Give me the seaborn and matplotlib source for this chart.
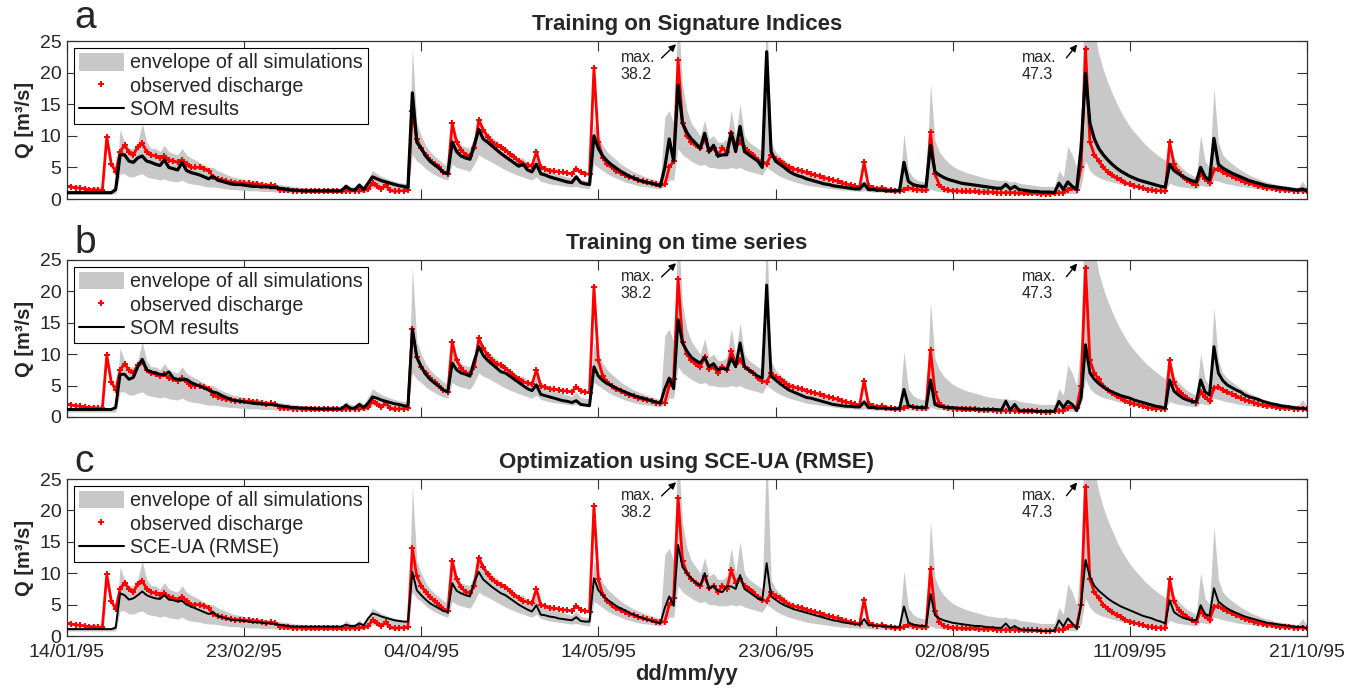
import matplotlib
matplotlib.use("Agg")
import matplotlib.pyplot as plt
import matplotlib.dates as mdates
from matplotlib.lines import Line2D
from matplotlib.patches import Patch
import pandas as pd
import seaborn as sns

# ============================================================
# DATA (daily values, 14/01/95 .. 21/10/95, m3/s)
# ============================================================
START = "1995-01-14"
END = "1995-10-21"

obs = [
    2.0, 1.9, 1.8, 1.7, 1.6, 1.5, 1.5, 1.4, 1.4, 9.8,
    5.6, 4.3, 7.5, 8.5, 7.5, 7.0, 8.3, 8.8, 7.5, 7.0,
    6.8, 6.5, 6.8, 6.2, 6.0, 5.8, 6.2, 5.6, 5.0, 5.0,
    5.0, 4.8, 4.5, 3.5, 3.2, 3.0, 2.8, 2.7, 2.6, 2.6,
    2.5, 2.5, 2.4, 2.4, 2.2, 2.1, 2.2, 2.1, 1.5, 1.4,
    1.4, 1.3, 1.3, 1.3, 1.2, 1.2, 1.2, 1.2, 1.2, 1.2,
    1.2, 1.2, 1.2, 1.3, 1.3, 1.3, 1.3, 1.4, 1.6, 2.5,
    2.0, 1.6, 2.2, 1.4, 1.2, 1.3, 1.3, 1.4, 14.0, 9.5,
    8.0, 7.0, 6.2, 5.5, 5.0, 4.3, 4.0, 12.0, 9.0, 7.8,
    7.0, 6.8, 8.0, 12.5, 11.0, 9.8, 9.0, 8.5, 8.2, 7.8,
    7.2, 6.6, 6.0, 5.6, 5.4, 5.2, 7.5, 5.0, 4.8, 4.5,
    4.4, 4.3, 4.2, 4.1, 4.0, 4.8, 4.2, 4.0, 3.9, 20.7,
    9.0, 6.5, 5.5, 5.0, 4.5, 4.1, 3.8, 3.5, 3.3, 3.0,
    2.8, 2.7, 2.5, 2.3, 2.2, 2.3, 5.0, 6.0, 22.0, 12.0,
    10.0, 9.0, 8.5, 8.0, 9.5, 7.6, 8.0, 7.0, 8.0, 7.5,
    10.5, 8.5, 9.0, 8.0, 7.5, 7.0, 6.2, 5.8, 5.5, 7.0,
    6.3, 6.0, 5.5, 5.0, 4.8, 4.6, 4.4, 4.2, 4.0, 3.8,
    3.6, 3.4, 3.2, 3.0, 2.8, 2.6, 2.4, 2.2, 2.0, 1.9,
    5.8, 2.0, 1.8, 1.6, 1.8, 1.5, 1.4, 1.3, 1.3, 1.5,
    1.8, 1.6, 1.5, 1.4, 1.4, 10.6, 4.0, 2.2, 1.6, 1.4,
    1.3, 1.3, 1.2, 1.2, 1.2, 1.2, 1.1, 1.1, 1.1, 1.1,
    1.0, 1.0, 1.0, 1.0, 1.0, 0.9, 0.9, 0.9, 0.9, 0.9,
    0.8, 0.8, 0.8, 0.9, 1.0, 1.0, 1.5, 1.8, 1.5, 5.0,
    23.8, 9.0, 7.0, 6.0, 5.0, 4.3, 3.8, 3.3, 3.0, 2.6,
    2.3, 2.1, 1.9, 1.7, 1.5, 1.4, 1.3, 1.3, 1.2, 9.0,
    5.5, 4.2, 3.5, 3.0, 2.5, 2.2, 4.0, 3.2, 2.5, 4.6,
    4.8, 4.3, 4.0, 3.6, 3.3, 3.0, 2.7, 2.5, 2.3, 2.1,
    1.9, 1.8, 1.7, 1.6, 1.5, 1.4, 1.4, 1.3, 1.3, 1.3, 1.2,
]

env_lo = [
    0.8, 0.8, 0.8, 0.8, 0.8, 0.8, 0.8, 0.8, 0.8, 0.8,
    0.8, 0.8, 4.0, 4.0, 3.5, 3.5, 3.8, 4.0, 3.5, 3.3,
    3.2, 3.0, 3.2, 2.9, 2.8, 2.7, 3.0, 2.6, 2.4, 2.3,
    2.2, 2.0, 1.9, 1.9, 1.8, 1.7, 1.6, 1.5, 1.5, 1.4,
    1.4, 1.3, 1.3, 1.3, 1.2, 1.2, 1.2, 1.1, 1.1, 1.1,
    1.0, 1.0, 1.0, 1.0, 1.0, 1.0, 1.0, 1.0, 1.0, 1.0,
    1.0, 1.0, 1.0, 1.0, 1.0, 1.0, 1.0, 1.0, 1.2, 1.8,
    1.7, 1.6, 1.5, 1.4, 1.3, 1.3, 1.2, 1.2, 7.0, 6.0,
    5.5, 4.8, 4.3, 3.9, 3.5, 3.2, 3.0, 5.5, 5.0, 4.8,
    4.6, 4.4, 5.5, 7.0, 6.5, 6.2, 5.8, 5.4, 5.0, 4.6,
    4.3, 4.0, 3.7, 3.5, 3.2, 3.0, 3.5, 2.8, 2.6, 2.4,
    2.3, 2.2, 2.1, 2.0, 1.9, 2.0, 1.8, 1.7, 1.6, 5.5,
    5.0, 4.5, 4.0, 3.6, 3.3, 3.0, 2.7, 2.5, 2.3, 2.1,
    2.0, 1.9, 1.8, 1.7, 1.6, 2.0, 3.0, 3.0, 8.0, 7.0,
    6.5, 6.0, 5.6, 5.3, 5.5, 5.0, 5.0, 4.8, 4.8, 4.8,
    5.0, 4.8, 5.0, 4.6, 4.4, 4.2, 4.0, 3.8, 5.0, 4.5,
    4.0, 3.6, 3.3, 3.0, 2.8, 2.6, 2.4, 2.2, 2.1, 2.0,
    1.9, 1.8, 1.7, 1.6, 1.5, 1.4, 1.4, 1.3, 1.3, 1.2,
    1.3, 1.2, 1.1, 1.1, 1.1, 1.0, 1.0, 1.0, 1.0, 1.5,
    1.2, 1.1, 1.1, 1.0, 1.0, 1.6, 1.3, 1.2, 1.1, 1.0,
    1.0, 1.0, 0.9, 0.9, 0.9, 0.9, 0.8, 0.8, 0.8, 0.8,
    0.8, 0.8, 0.8, 0.8, 0.8, 0.7, 0.7, 0.7, 0.7, 0.7,
    0.7, 0.7, 0.7, 0.7, 0.8, 0.8, 0.9, 0.9, 0.8, 2.0,
    6.0, 4.5, 3.8, 3.4, 3.1, 2.9, 2.7, 2.5, 2.3, 2.2,
    2.0, 1.9, 1.8, 1.7, 1.6, 1.5, 1.4, 1.4, 1.3, 2.5,
    2.2, 2.0, 1.9, 1.8, 1.7, 1.6, 2.2, 2.0, 1.9, 3.0,
    2.8, 2.6, 2.4, 2.3, 2.1, 2.0, 1.9, 1.8, 1.7, 1.6,
    1.5, 1.4, 1.4, 1.3, 1.3, 1.2, 1.2, 1.1, 1.1, 1.1, 1.0,
]

env_hi = [
    1.3, 1.3, 1.3, 1.3, 1.3, 1.3, 1.3, 1.3, 1.3, 1.3,
    1.3, 2.0, 11.0, 9.0, 8.0, 8.0, 9.0, 12.0, 9.0, 8.0,
    8.0, 7.5, 8.5, 7.5, 7.2, 7.0, 8.0, 7.0, 6.5, 6.2,
    5.8, 5.4, 5.0, 5.0, 4.5, 4.2, 3.9, 3.6, 3.4, 3.3,
    3.1, 3.0, 2.9, 2.8, 2.7, 2.6, 2.5, 2.4, 2.3, 2.2,
    2.1, 2.0, 1.9, 1.8, 1.8, 1.7, 1.7, 1.7, 1.7, 1.7,
    1.7, 1.7, 1.7, 2.5, 2.0, 1.9, 2.6, 2.0, 3.2, 4.5,
    4.0, 3.6, 3.3, 3.0, 2.8, 2.6, 2.5, 2.4, 23.8, 12.0,
    10.0, 8.5, 7.5, 6.8, 6.2, 5.6, 5.2, 11.5, 9.5, 8.5,
    8.2, 8.0, 10.0, 12.5, 11.0, 10.5, 9.8, 9.2, 8.6, 8.0,
    7.5, 7.0, 6.5, 6.5, 5.8, 5.4, 6.5, 5.0, 4.7, 4.4,
    4.1, 3.9, 3.7, 3.5, 3.3, 4.0, 3.1, 3.0, 2.9, 12.0,
    10.0, 8.5, 7.5, 6.8, 6.2, 5.6, 5.1, 4.7, 4.3, 4.0,
    3.7, 3.4, 3.2, 3.0, 2.8, 13.0, 14.0, 12.0, 30.0, 18.0,
    14.0, 12.0, 11.0, 10.0, 12.5, 9.5, 10.0, 9.0, 9.0, 9.5,
    14.0, 10.0, 15.0, 10.0, 9.0, 8.5, 8.0, 7.5, 30.0, 9.0,
    7.5, 6.8, 6.2, 5.7, 5.2, 4.8, 4.5, 4.2, 3.9, 3.6,
    3.4, 3.2, 3.0, 2.8, 2.6, 2.5, 2.4, 2.3, 2.2, 2.1,
    3.0, 2.0, 2.0, 1.9, 1.9, 1.8, 1.8, 1.8, 1.8, 10.4,
    4.5, 3.5, 3.0, 2.8, 2.7, 18.3, 9.3, 7.5, 6.5, 5.8,
    5.2, 4.8, 4.5, 4.2, 4.0, 3.8, 3.6, 3.4, 3.2, 3.1,
    3.0, 2.9, 3.0, 2.7, 2.8, 2.5, 2.4, 2.3, 2.2, 2.1,
    2.0, 2.0, 2.0, 2.0, 4.5, 3.5, 8.3, 7.0, 5.0, 12.0,
    40.0, 31.0, 26.5, 23.0, 20.5, 18.5, 16.8, 15.2, 13.8, 12.6,
    11.5, 10.6, 9.8, 9.0, 8.3, 7.7, 7.1, 6.6, 6.1, 8.0,
    6.5, 5.5, 4.8, 4.2, 3.8, 3.5, 10.1, 6.0, 5.0, 17.5,
    9.0, 7.0, 6.2, 5.6, 5.1, 4.6, 4.2, 3.8, 3.5, 3.2,
    2.9, 2.7, 2.5, 2.3, 2.2, 2.1, 2.0, 1.9, 1.8, 2.8, 1.7,
]

sim_a = [
    1.0, 1.0, 1.0, 1.0, 1.0, 1.0, 1.0, 1.0, 1.0, 1.0,
    1.0, 1.5, 7.0, 7.0, 6.0, 5.8, 6.5, 6.8, 6.0, 5.8,
    5.5, 5.3, 6.2, 5.0, 4.8, 4.6, 5.8, 4.5, 4.2, 4.0,
    3.8, 3.5, 3.2, 3.6, 3.0, 2.8, 2.6, 2.4, 2.3, 2.3,
    2.2, 2.1, 2.0, 2.0, 1.9, 2.0, 1.8, 1.8, 1.7, 1.6,
    1.5, 1.4, 1.4, 1.3, 1.3, 1.3, 1.3, 1.3, 1.3, 1.3,
    1.3, 1.3, 1.3, 2.0, 1.5, 1.4, 2.2, 1.5, 2.5, 3.5,
    3.2, 2.9, 2.7, 2.5, 2.3, 2.1, 2.0, 1.8, 16.8, 9.0,
    8.0, 6.8, 6.0, 5.4, 4.9, 4.2, 4.0, 9.0, 7.5, 6.8,
    6.5, 6.3, 8.6, 11.0, 9.5, 9.0, 8.4, 7.8, 7.2, 6.7,
    6.2, 5.7, 5.2, 5.5, 4.6, 4.3, 5.5, 4.0, 3.8, 3.5,
    3.3, 3.1, 2.9, 2.7, 2.6, 3.5, 2.6, 2.4, 2.3, 10.0,
    8.0, 6.8, 6.0, 5.4, 4.9, 4.4, 4.0, 3.6, 3.3, 3.0,
    2.8, 2.6, 2.5, 2.3, 2.1, 5.0, 9.5, 6.0, 18.0, 12.0,
    10.5, 9.5, 8.8, 8.0, 10.4, 7.5, 8.5, 6.8, 7.0, 7.0,
    10.5, 7.5, 11.5, 7.5, 7.0, 6.5, 6.0, 5.0, 23.3, 7.5,
    6.0, 5.5, 5.0, 4.4, 4.0, 3.7, 3.5, 3.2, 3.0, 2.8,
    2.6, 2.4, 2.3, 2.1, 2.0, 1.9, 1.8, 1.7, 1.6, 1.6,
    2.4, 1.5, 1.5, 1.4, 1.4, 1.3, 1.3, 1.3, 1.3, 5.8,
    2.8, 2.3, 2.1, 2.0, 2.0, 8.5, 4.3, 3.8, 3.4, 3.1,
    2.9, 2.7, 2.5, 2.4, 2.3, 2.2, 2.1, 2.0, 1.9, 1.8,
    1.7, 1.7, 2.3, 1.6, 2.0, 1.5, 1.4, 1.3, 1.2, 1.2,
    1.1, 1.1, 1.1, 1.0, 2.5, 1.5, 2.7, 2.0, 1.5, 8.0,
    19.9, 12.0, 9.5, 8.0, 7.0, 6.2, 5.5, 4.9, 4.4, 4.0,
    3.6, 3.3, 3.0, 2.8, 2.6, 2.4, 2.2, 2.0, 1.9, 5.5,
    4.5, 4.0, 3.6, 3.2, 2.9, 2.7, 5.0, 3.5, 3.0, 9.6,
    5.5, 4.9, 4.5, 4.1, 3.8, 3.5, 3.2, 2.9, 2.7, 2.5,
    2.3, 2.1, 2.0, 1.9, 1.8, 1.7, 1.6, 1.5, 1.4, 1.6, 1.3,
]

sim_b = [
    1.2, 1.2, 1.2, 1.2, 1.2, 1.2, 1.2, 1.2, 1.2, 1.2,
    1.2, 1.5, 6.8, 6.8, 6.0, 6.3, 8.0, 9.2, 7.5, 7.2,
    7.0, 6.8, 6.7, 7.2, 6.2, 6.0, 5.9, 6.0, 5.5, 5.2,
    4.9, 4.6, 4.3, 4.0, 3.8, 3.4, 3.1, 2.8, 2.6, 2.5,
    2.4, 2.3, 2.2, 2.1, 2.1, 2.0, 2.0, 1.9, 1.8, 1.7,
    1.6, 1.5, 1.5, 1.4, 1.4, 1.4, 1.3, 1.3, 1.3, 1.3,
    1.3, 1.3, 1.3, 1.9, 1.4, 1.4, 2.0, 1.5, 2.2, 3.2,
    3.0, 2.7, 2.5, 2.3, 2.1, 2.0, 1.8, 1.7, 14.0, 9.5,
    8.0, 6.8, 6.0, 5.4, 4.9, 4.3, 4.0, 8.6, 7.5, 7.0,
    6.8, 6.5, 9.0, 11.2, 9.8, 9.0, 8.4, 7.8, 7.2, 7.0,
    6.5, 6.0, 5.5, 5.0, 4.5, 4.2, 5.1, 3.6, 3.4, 3.2,
    3.0, 2.8, 2.6, 2.5, 2.3, 2.6, 2.0, 1.9, 1.8, 8.0,
    6.5, 5.8, 5.3, 5.0, 4.6, 4.3, 4.0, 3.7, 3.4, 3.2,
    3.0, 2.8, 2.6, 2.4, 2.2, 4.5, 6.2, 4.5, 15.5, 11.8,
    10.5, 9.5, 9.0, 8.6, 9.5, 8.0, 8.5, 7.5, 7.8, 7.5,
    9.4, 8.0, 11.8, 8.0, 7.5, 7.0, 6.5, 6.2, 21.0, 6.5,
    5.9, 5.3, 4.8, 4.3, 4.0, 3.7, 3.4, 3.1, 3.0, 2.8,
    2.6, 2.4, 2.2, 2.0, 1.9, 1.8, 1.7, 1.7, 1.6, 1.6,
    2.4, 1.5, 1.5, 1.4, 1.4, 1.4, 1.3, 1.3, 1.3, 4.4,
    1.8, 1.6, 1.5, 1.5, 1.5, 5.9, 2.0, 1.7, 1.6, 1.5,
    1.5, 1.4, 1.4, 1.3, 1.3, 1.3, 1.2, 1.2, 1.2, 1.2,
    1.2, 1.1, 2.5, 1.1, 2.0, 1.0, 1.0, 1.0, 1.0, 0.9,
    0.9, 0.9, 0.9, 0.9, 2.5, 1.5, 2.5, 2.0, 1.0, 3.0,
    11.5, 7.0, 6.0, 5.3, 4.8, 4.3, 4.0, 3.7, 3.4, 3.2,
    3.0, 2.7, 2.5, 2.3, 2.1, 1.9, 1.7, 1.6, 1.4, 5.9,
    4.1, 3.5, 3.0, 2.7, 2.5, 2.4, 5.9, 4.0, 3.5, 11.2,
    7.0, 5.8, 5.1, 4.7, 4.3, 4.0, 3.5, 3.2, 3.0, 2.8,
    2.5, 2.3, 2.1, 2.0, 1.8, 1.7, 1.6, 1.5, 1.4, 1.4, 1.3,
]

sim_c = [
    1.1, 1.1, 1.1, 1.1, 1.1, 1.1, 1.1, 1.1, 1.1, 1.1,
    1.1, 1.3, 6.8, 6.5, 5.8, 6.0, 6.5, 7.1, 6.5, 6.2,
    6.0, 5.9, 6.5, 5.8, 5.7, 5.5, 5.6, 5.0, 4.7, 4.4,
    4.1, 3.8, 3.5, 3.8, 3.2, 3.0, 2.8, 2.6, 2.5, 2.5,
    2.4, 2.3, 2.2, 2.2, 2.1, 2.0, 2.0, 1.9, 1.8, 1.7,
    1.6, 1.5, 1.5, 1.5, 1.5, 1.5, 1.5, 1.5, 1.5, 1.5,
    1.5, 1.5, 1.5, 1.8, 1.6, 1.6, 2.0, 1.7, 2.8, 3.6,
    3.4, 3.1, 2.9, 2.7, 2.5, 2.4, 2.3, 2.3, 10.2, 7.3,
    6.5, 5.8, 5.2, 4.8, 4.4, 4.0, 3.8, 8.4, 7.2, 6.8,
    6.5, 6.3, 8.7, 10.2, 9.0, 8.4, 7.8, 7.3, 6.8, 6.5,
    6.0, 5.5, 5.0, 4.6, 4.2, 3.9, 4.9, 3.4, 3.3, 3.1,
    3.0, 2.8, 2.7, 2.6, 2.5, 3.0, 2.4, 2.3, 2.3, 9.2,
    7.3, 6.5, 5.8, 5.3, 4.8, 4.4, 4.1, 3.7, 3.4, 3.1,
    2.9, 2.6, 2.4, 2.2, 2.0, 4.5, 6.3, 4.8, 14.5, 11.0,
    10.0, 9.2, 8.5, 8.0, 10.0, 7.5, 8.0, 7.2, 7.0, 7.9,
    7.9, 7.5, 9.7, 7.5, 7.0, 6.5, 6.0, 5.7, 11.6, 6.3,
    5.8, 5.3, 4.9, 4.6, 4.3, 4.1, 3.9, 3.7, 3.5, 3.3,
    3.1, 2.9, 2.7, 2.5, 2.4, 2.2, 2.1, 2.0, 1.9, 1.8,
    2.7, 1.7, 1.7, 1.6, 1.6, 1.5, 1.5, 1.4, 1.4, 4.7,
    2.2, 1.8, 1.7, 1.6, 1.6, 6.7, 3.3, 2.8, 2.5, 2.3,
    2.1, 2.0, 1.9, 1.8, 1.7, 1.6, 1.6, 1.5, 1.4, 1.4,
    1.3, 1.3, 2.0, 1.2, 1.6, 1.1, 1.0, 1.0, 0.9, 0.9,
    0.8, 0.8, 0.8, 0.8, 2.5, 1.5, 2.8, 2.0, 1.2, 5.0,
    12.1, 9.4, 8.0, 7.2, 6.6, 6.0, 5.5, 5.1, 4.7, 4.4,
    4.1, 3.8, 3.5, 3.2, 3.0, 2.8, 2.5, 2.3, 2.0, 5.7,
    3.8, 3.3, 2.9, 2.7, 2.5, 2.5, 4.9, 3.5, 3.2, 7.6,
    5.5, 4.9, 4.4, 4.0, 3.7, 3.4, 3.1, 2.9, 2.7, 2.5,
    2.3, 2.1, 2.0, 1.9, 1.8, 1.7, 1.6, 1.5, 1.4, 1.5, 1.2,
]

panel_letters = ["a", "b", "c"]
panel_titles = [
    "Training on Signature Indices",
    "Training on time series",
    "Optimization using SCE-UA (RMSE)",
]
sim_labels = ["SOM results", "SOM results", "SCE-UA (RMSE)"]
sim_widths = [2.3, 2.1, 1.4]
max_labels = ["max.\n38.2", "max.\n47.3"]

ENV_LABEL = "envelope of all simulations"
OBS_LABEL = "observed discharge"
ENV_COLOR = "#c8c8c8"
SPINE_COLOR = "#333333"


# ============================================================
# PLOT
# ============================================================
def main():
    sns.set_style("ticks")
    plt.rcParams["font.family"] = ["Liberation Sans", "DejaVu Sans"]

    dates = pd.date_range(START, periods=len(obs), freq="D")
    df = pd.DataFrame({
        "date": dates, "obs": obs, "lo": env_lo, "hi": env_hi,
        "sim_a": sim_a, "sim_b": sim_b, "sim_c": sim_c,
    })
    sim_cols = ["sim_a", "sim_b", "sim_c"]
    tick_dates = pd.date_range(START, END, freq="40D")

    fig = plt.figure(figsize=(13.58, 6.92), dpi=100)
    positions = [
        (0.0493, 0.7124, 0.9131, 0.2283),
        (0.0493, 0.3974, 0.9131, 0.2269),
        (0.0493, 0.0809, 0.9131, 0.2269),
    ]
    letter_y = [0.9595, 0.634, 0.318]

    for i, pos in enumerate(positions):
        ax = fig.add_axes(pos)
        ax.fill_between(df["date"], df["lo"], df["hi"], color=ENV_COLOR, lw=0, zorder=1)
        sns.lineplot(data=df, x="date", y="obs", ax=ax, color="red", lw=2.0,
                     marker="P", markersize=5, markeredgewidth=0,
                     estimator=None, zorder=2)
        sns.lineplot(data=df, x="date", y=sim_cols[i], ax=ax, color="black",
                     lw=sim_widths[i], estimator=None, zorder=3)

        ax.set_xlim(pd.Timestamp(START), pd.Timestamp(END))
        ax.set_ylim(0, 25)
        ax.set_yticks([0, 5, 10, 15, 20, 25])
        ax.set_xticks(tick_dates)
        ax.xaxis.set_major_formatter(mdates.DateFormatter("%d/%m/%y"))
        ax.tick_params(direction="in", length=7, width=0.8, top=True, right=True,
                       labelsize=14, color=SPINE_COLOR, pad=4)
        ax.tick_params(axis="x", pad=6)
        for sp in ax.spines.values():
            sp.set_color(SPINE_COLOR)
            sp.set_linewidth(0.9)

        ax.set_ylabel("Q [m³/s]", fontsize=14.5, fontweight="bold", labelpad=4)
        if i < 2:
            ax.tick_params(labelbottom=False)
            ax.set_xlabel("")
        else:
            ax.set_xlabel("dd/mm/yy", fontsize=15.8, fontweight="bold", labelpad=2)

        ax.set_title(panel_titles[i], fontsize=16, fontweight="bold", pad=8)
        fig.text(0.055, letter_y[i], panel_letters[i], fontsize=28, va="baseline")

        handles = [
            Patch(facecolor=ENV_COLOR, edgecolor="none", label=ENV_LABEL),
            Line2D([], [], ls="none", marker="P", color="red", ms=5, mew=0, label=OBS_LABEL),
            Line2D([], [], color="black", lw=1.5, label=sim_labels[i]),
        ]
        leg = ax.legend(handles=handles, loc="upper left", fontsize=14.2,
                        frameon=True, fancybox=False, framealpha=1,
                        edgecolor="black", borderaxespad=0.35, borderpad=0.25,
                        labelspacing=0.2, handlelength=2.3, handleheight=1.0,
                        handletextpad=0.3)
        leg.get_frame().set_linewidth(0.8)
        leg.set_zorder(5)

        # peak annotations (true maxima above the axis limit)
        t0 = pd.Timestamp(START)
        ax.annotate("", xy=(t0 + pd.Timedelta(days=138), 24.8),
                    xytext=(t0 + pd.Timedelta(days=133.8), 22.0),
                    arrowprops=dict(arrowstyle="-|>", color="black", lw=1, mutation_scale=10))
        ax.text(t0 + pd.Timedelta(days=125), 23.6, max_labels[0], fontsize=11.5,
                va="top", ha="left", linespacing=1.15)
        ax.annotate("", xy=(t0 + pd.Timedelta(days=228.5), 24.8),
                    xytext=(t0 + pd.Timedelta(days=225.3), 22.0),
                    arrowprops=dict(arrowstyle="-|>", color="black", lw=1, mutation_scale=10))
        ax.text(t0 + pd.Timedelta(days=215.6), 23.6, max_labels[1], fontsize=11.5,
                va="top", ha="left", linespacing=1.15)

    fig.savefig("out.png", dpi=100)
    plt.close(fig)


if __name__ == "__main__":
    main()
